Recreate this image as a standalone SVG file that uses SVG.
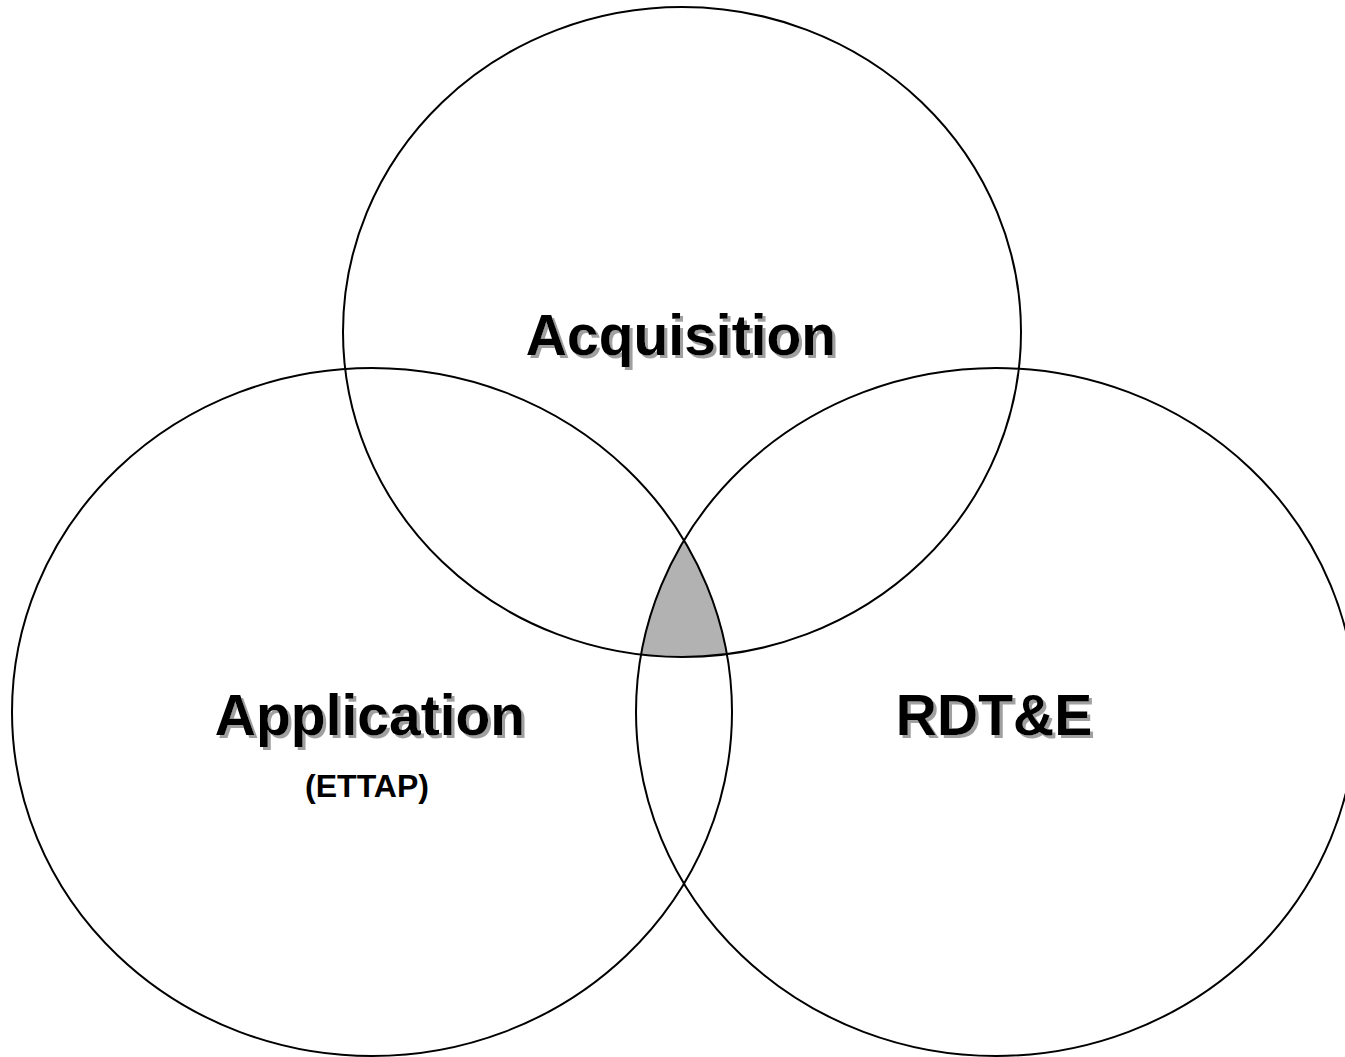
<svg xmlns="http://www.w3.org/2000/svg" width="1345" height="1057" viewBox="0 0 1345 1057">
<style>
.c{fill:none;stroke:#000;stroke-width:2}
.t{font-family:"Liberation Sans",Arial,sans-serif;font-weight:bold;text-anchor:middle}
.big{font-size:57px;filter:url(#sh)}
</style>
<defs>
<filter id="sh" x="-10%" y="-20%" width="120%" height="150%">
<feFlood flood-color="#a0a0a0" result="f"/>
<feComposite in="f" in2="SourceAlpha" operator="in" result="s"/>
<feOffset in="s" dx="3" dy="3" result="o"/>
<feMerge><feMergeNode in="o"/><feMergeNode in="SourceGraphic"/></feMerge>
</filter>
<clipPath id="cl"><ellipse cx="372" cy="712" rx="360" ry="344"/></clipPath>
<clipPath id="cr"><ellipse cx="996" cy="712" rx="360" ry="344"/></clipPath>
</defs>
<rect width="1345" height="1057" fill="#fff"/>
<g id="overlap" clip-path="url(#cl)"><g clip-path="url(#cr)"><ellipse cx="682" cy="332" rx="339" ry="325" fill="#b2b2b2"/></g></g>
<g id="connectors"></g>
<g id="acquisition">
<ellipse class="c" cx="682" cy="332" rx="339" ry="325"/>
<text class="t big" x="681" y="355">Acquisition</text>
</g>
<g id="application">
<ellipse class="c" cx="372" cy="712" rx="360" ry="344"/>
<text class="t big" x="370" y="735">Application</text>
<text class="t" x="367" y="797" font-size="32">(ETTAP)</text>
</g>
<g id="rdte">
<ellipse class="c" cx="996" cy="712" rx="360" ry="344"/>
<text class="t big" x="994" y="735">RDT&amp;E</text>
</g>
</svg>
